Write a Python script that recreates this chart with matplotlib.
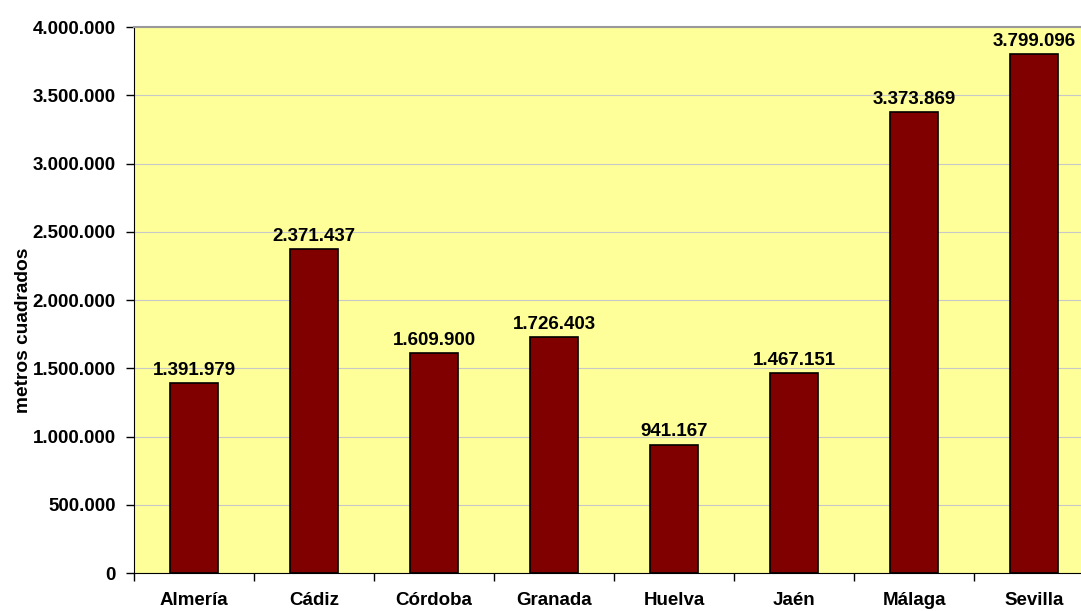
import matplotlib
matplotlib.use("Agg")
import matplotlib.pyplot as plt
from matplotlib.ticker import FuncFormatter, FixedLocator

provincias = ["Almería", "Cádiz", "Córdoba", "Granada", "Huelva", "Jaén", "Málaga", "Sevilla"]
superficie = [1391979, 2371437, 1609900, 1726403, 941167, 1467151, 3373869, 3799096]

plt.rcParams['font.family'] = ['Liberation Sans', 'DejaVu Sans']
plt.rcParams['font.weight'] = 'bold'


def miles(v, pos=None):
    # separador de miles con punto
    return f"{int(round(v)):,}".replace(",", ".")


fig = plt.figure(figsize=(10.81, 6.11), dpi=100)
ax = fig.add_axes([134 / 1081, 38 / 611, 960 / 1081, 546 / 611])
ax.set_facecolor("#FFFF99")

x = range(len(provincias))
bars = ax.bar(x, superficie, width=0.4, color="#800000", edgecolor="black",
              linewidth=1.2, zorder=3)

for b, v in zip(bars, superficie):
    ax.annotate(miles(v), (b.get_x() + b.get_width() / 2, v),
                xytext=(0, 3), textcoords="offset points",
                ha="center", va="bottom", fontsize=13.5, fontweight="bold")

ax.set_xlim(-0.5, len(provincias) - 0.5)
ax.set_ylim(0, 4000000)
ax.yaxis.set_major_locator(FixedLocator(range(0, 4000001, 500000)))
ax.yaxis.set_major_formatter(FuncFormatter(miles))
ax.grid(axis="y", color="#C8C8C8", linewidth=0.8, zorder=0)

# ticks entre categorias, etiquetas centradas
ax.set_xticks([i - 0.5 for i in range(len(provincias) + 1)])
ax.set_xticklabels([])
ax.set_xticks(list(x), minor=True)
ax.set_xticklabels(provincias, minor=True, fontsize=13.5, fontweight="bold")
ax.tick_params(axis="x", which="minor", length=0, pad=14)
ax.tick_params(axis="x", which="major", length=6, width=1, direction="out")
ax.tick_params(axis="y", length=6, width=1, direction="out", labelsize=13.5, pad=7)

ax.spines["top"].set_color("#999999")
ax.spines["top"].set_linewidth(1.5)
ax.spines["right"].set_visible(False)
ax.spines["left"].set_color("black")
ax.spines["bottom"].set_color("black")

ax.set_ylabel("metros cuadrados", fontsize=13.8, fontweight="bold")
ax.yaxis.set_label_coords(-0.106, 0.445)

fig.savefig("out.png", dpi=100)
